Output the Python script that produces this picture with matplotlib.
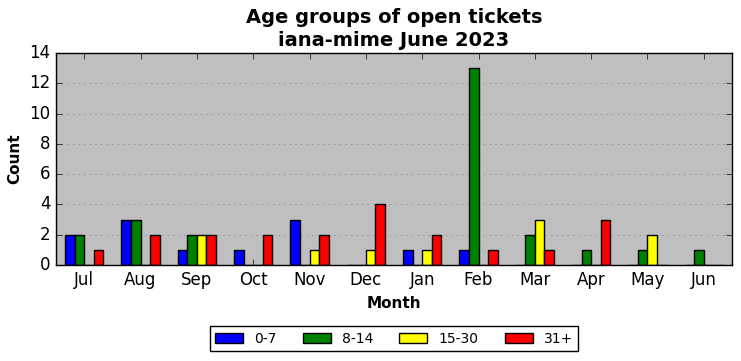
import numpy as np
import matplotlib
matplotlib.use("Agg")
import matplotlib.pyplot as plt

plt.style.use("classic")

months = ["Jul", "Aug", "Sep", "Oct", "Nov", "Dec", "Jan", "Feb", "Mar", "Apr", "May", "Jun"]
age_0_7 = [2, 3, 1, 1, 3, 0, 1, 1, 0, 0, 0, 0]
age_8_14 = [2, 3, 2, 0, 0, 0, 0, 13, 2, 1, 1, 1]
age_15_30 = [0, 0, 2, 0, 1, 1, 1, 0, 3, 0, 2, 0]
age_31 = [1, 2, 2, 2, 2, 4, 2, 1, 1, 3, 0, 0]

series = [("0-7", age_0_7, "blue"), ("8-14", age_8_14, "green"),
          ("15-30", age_15_30, "yellow"), ("31+", age_31, "red")]

fig = plt.figure(figsize=(7.41, 3.61), dpi=100)
fig.patch.set_facecolor("white")
ax = fig.add_axes([56 / 741, 1 - 265 / 361, 676 / 741, 212 / 361])
ax.set_facecolor("#bfbfbf")

x = np.arange(len(months))
w = 0.17
for i, (name, vals, col) in enumerate(series):
    ax.bar(x + (i - 2) * w, vals, width=w, align="edge", color=col,
           edgecolor="black", linewidth=1, label=name)

ax.set_xlim(-0.5, len(months) - 0.5)
ax.set_ylim(0, 14)
ax.set_xticks(x)
ax.set_xticklabels(months, fontsize=12)
ax.set_yticks(range(0, 15, 2))
ax.tick_params(axis="y", labelsize=12)
ax.yaxis.grid(True, linestyle=":", color="gray")
ax.xaxis.grid(False)
ax.set_axisbelow(True)

ax.set_xlabel("Month", fontsize=11, fontweight="bold")
ax.set_ylabel("Count", fontsize=11, fontweight="bold")
ax.set_title("Age groups of open tickets\niana-mime June 2023", fontsize=14,
             fontweight="bold", linespacing=1.25)

ax.legend(loc="upper center", bbox_to_anchor=(0.5, -0.255), ncol=4,
          fontsize=10, frameon=True, fancybox=False, handlelength=2.0,
          columnspacing=1.9)

fig.savefig("out.png", dpi=100, facecolor="white")
